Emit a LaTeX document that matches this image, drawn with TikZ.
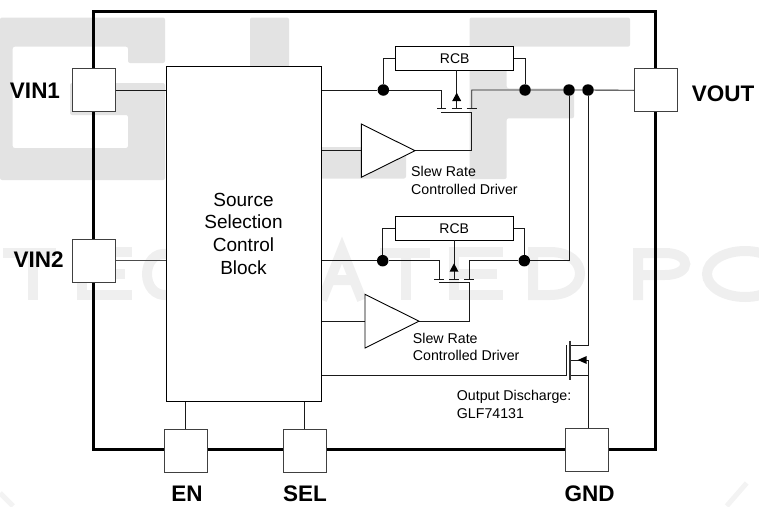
\documentclass[tikz,border=0pt]{standalone}
\usepackage{fontspec}
\setmainfont{Liberation Sans}
\definecolor{wmA}{HTML}{E3E3E3}
\definecolor{wmB}{HTML}{EFEFEF}
\definecolor{wmC}{HTML}{F3F3F3}
\definecolor{wire}{HTML}{1A1A1A}
\tikzset{
  wmfill/.style={fill=wmA,draw=none,rounded corners=2pt},
  wmstroke/.style={draw=wmB,line width=10pt,line cap=butt},
  wmthin/.style={draw=wmC,line width=5pt},
  border/.style={draw=black,line width=3pt,line join=miter},
  wired/.style={draw=wire,line width=0.9pt},
  pinbox/.style={draw=black!75,line width=1pt,fill=white,minimum width=43pt,minimum height=43pt,inner sep=0pt},
  blockbox/.style={draw=black,line width=1pt,fill=white,minimum width=155pt,minimum height=334.6pt,inner sep=0pt},
  rcbbox/.style={draw=black,line width=1pt,fill=white,minimum width=118pt,minimum height=23.7pt,inner sep=0pt,font=\fontsize{14}{16}\selectfont},
  joint/.style={circle,fill=black,draw=none,minimum size=11.5pt,inner sep=0pt},
  amp/.style={draw=black,line width=0.9pt,fill=white,line join=miter},
  tip/.style={fill=black,draw=none},
  pinlabel/.style={anchor=base,inner sep=0pt,font=\fontsize{22.5}{24}\selectfont\bfseries},
  small/.style={anchor=base west,inner sep=0pt,font=\fontsize{14.2}{16}\selectfont},
  big/.style={anchor=base,inner sep=0pt,font=\fontsize{19}{21}\selectfont}
}
\begin{document}
\begin{tikzpicture}[x=1pt,y=-1pt]
\useasboundingbox (0,0) rectangle (759,506);
% watermark: G L F
\fill[wmfill,even odd rule] (0,17.5) -- (165,17.5) -- (165,63) -- (128,63) -- (128,46.7) -- (12.7,46.7) -- (12.7,148) -- (128,148) -- (128,115) -- (70,115) -- (70,83) -- (165,83) -- (165,180) -- (0,180) -- cycle;
\fill[wmfill] (250,17.5) -- (289,17.5) -- (289,147) -- (406,147) -- (406,178.5) -- (250,178.5) -- cycle;
\fill[wmfill] (469.5,17.5) -- (630,17.5) -- (630,46.7) -- (506.7,46.7) -- (506.7,88.3) -- (574,88.3) -- (574,118.3) -- (506.7,118.3) -- (506.7,179) -- (469.5,179) -- cycle;
% watermark: lower row of letters
\draw[wmstroke] (3,253) -- (56,253) (33,253) -- (33,300);
\draw[wmstroke] (132,252) -- (82,252) -- (82,295) -- (132,295) (82,274) -- (125,274);
\draw[wmstroke] (168,254) .. controls (140,250) and (140,298) .. (168,295);
\draw[wmstroke] (322,300) -- (342,250) -- (362,300) (330,280) -- (354,280);
\draw[wmstroke] (380,253) -- (430,253) (406,253) -- (406,300);
\draw[wmstroke] (503,252) -- (454,252) -- (454,295) -- (503,295) (454,274) -- (497,274);
\draw[wmstroke] (533,300) -- (533,252) -- (550,252) .. controls (590,252) and (590,295) .. (550,295) -- (533,295);
\draw[wmstroke] (638,300) -- (638,253) -- (665,253) .. controls (692,253) and (692,275) .. (665,275) -- (638,275);
\draw[wmstroke] (745,274) ellipse [x radius=38,y radius=23];
\draw[wmthin] (746.7,483) -- (726.7,506);
\draw[wmthin] (0,493) -- (13,506);
% package outline
\draw[border] (93.7,11) rectangle (655.7,449.7);
% coordinates used by the free ends
\coordinate (d1s) at (441.3,90);
\coordinate (d1d) at (471.7,90);
\coordinate (d2s) at (439,260.7);
\coordinate (d2d) at (469.3,260.7);
\coordinate (a1in) at (361.3,150.7);
\coordinate (a1tip) at (415,150.7);
\coordinate (a2in) at (365,321.2);
\coordinate (a2tip) at (419,321.2);
\coordinate (dd) at (588,345.3);
\coordinate (ds) at (588,360);
% nodes
\node[pinbox] (vin1) at (93.7,90.3) {};
\node[pinbox] (vin2) at (93.7,260.8) {};
\node[pinbox] (vout) at (656,90.3) {};
\node[pinbox] (en) at (185.8,450.8) {};
\node[pinbox] (sel) at (304.5,450.8) {};
\node[pinbox] (gnd) at (587.2,450) {};
\node[blockbox] (block) at (243.8,234) {};
\node[big] (t1) at (243.5,206) {Source};
\node[big] (t2) at (243.5,228.6) {Selection};
\node[big] (t3) at (243.5,251.4) {Control};
\node[big] (t4) at (243.5,274) {Block};
\node[rcbbox] (rcb1) at (454.7,58.2) {RCB};
\node[rcbbox] (rcb2) at (454.2,228.5) {RCB};
\node[joint] (j1a) at (383.3,90) {};
\node[joint] (j1b) at (525,90) {};
\node[joint] (j1c) at (569,90) {};
\node[joint] (j1d) at (588,90) {};
\node[joint] (j2a) at (382.7,260.7) {};
\node[joint] (j2b) at (524.3,260.7) {};
% pin wires
\draw[wired] (vin1.east) -- (block.west |- vin1.east);
\draw[wired,draw=black!70] (vin2.east) -- (block.west |- vin2.east);
\draw[wired] (block.south -| en.north) -- (en.north);
\draw[wired] (block.south -| sel.north) -- (sel.north);
% upper switch
\draw[wired] (block.east |- j1a) -- (j1a) -- (d1s) -- (441.3,108.3);
\draw[wired] (471.7,108.3) -- (d1d) -- (j1b) -- (j1c) -- (j1d) -- (vout.west);
\draw[wired] (rcb1.west) -- (rcb1.west -| j1a) -- (j1a);
\draw[wired] (rcb1.east) -- (rcb1.east -| j1b) -- (j1b);
\draw[wired] (456.7,70) -- (456.7,108.3);
\draw[wired] (437,108.3) -- (446.3,108.3) (451.7,108.3) -- (461.7,108.3) (466.7,108.3) -- (476.7,108.3);
\draw[wired] (441.3,112) -- (471.7,112) -- (471.7,150.7) -- (a1tip);
\fill[tip] (456.7,92.7) -- (461.2,101) -- (452.2,101) -- cycle;
\draw[wired] (block.east |- a1in) -- (a1in);
\draw[amp] (361.3,124) -- (a1tip) -- (361.3,177.3) -- cycle;
% lower switch
\draw[wired] (block.east |- j2a) -- (j2a) -- (d2s) -- (439,279);
\draw[wired] (469.3,279) -- (d2d) -- (j2b) -- (569,260.7) -- (j1c);
\draw[wired] (rcb2.west) -- (rcb2.west -| j2a) -- (j2a);
\draw[wired] (rcb2.east) -- (rcb2.east -| j2b) -- (j2b);
\draw[wired] (454,240.3) -- (454,279);
\draw[wired] (434.3,279) -- (443.7,279) (449.3,279) -- (459.3,279) (464.3,279) -- (474.3,279);
\draw[wired] (439,282.7) -- (469.3,282.7) -- (469.3,321.2) -- (a2tip);
\fill[tip] (454,263.3) -- (458.5,271.7) -- (449.5,271.7) -- cycle;
\draw[wired] (block.east |- a2in) -- (a2in);
\draw[amp] (365,294.3) -- (a2tip) -- (365,348) -- cycle;
% discharge transistor
\draw[wired] (j1d) -- (dd) -- (570,345.3);
\draw[wired] (570,360) -- (ds) -- (gnd.north -| ds);
\draw[wired] (570,375.5) -- (588,375.5);
\draw[wired,line width=1.3pt,draw=black!80] (570,340.7) -- (570,380);
\draw[wired] (block.east |- 566,375.7) -- (566.3,375.7) -- (566.3,345);
\fill[tip] (577.7,360) -- (586.7,356) -- (586.7,364) -- cycle;
% labels
\node[small] (s1a) at (411,176.7) {Slew Rate};
\node[small] (s1b) at (411,194) {Controlled Driver};
\node[small] (s2a) at (412.7,343.3) {Slew Rate};
\node[small] (s2b) at (412.7,360.7) {Controlled Driver};
\node[small] (o1) at (456.7,400.7) {Output Discharge:};
\node[small] (o2) at (456.7,418) {GLF74131};
\node[pinlabel] (lvin1) at (35,98.7) {VIN1};
\node[pinlabel] (lvin2) at (38.7,267.7) {VIN2};
\node[pinlabel] (lvout) at (723,101.7) {VOUT};
\node[pinlabel] (len) at (187,501.7) {EN};
\node[pinlabel] (lsel) at (305,501.7) {SEL};
\node[pinlabel] (lgnd) at (589.7,501.7) {GND};
\end{tikzpicture}
\end{document}
